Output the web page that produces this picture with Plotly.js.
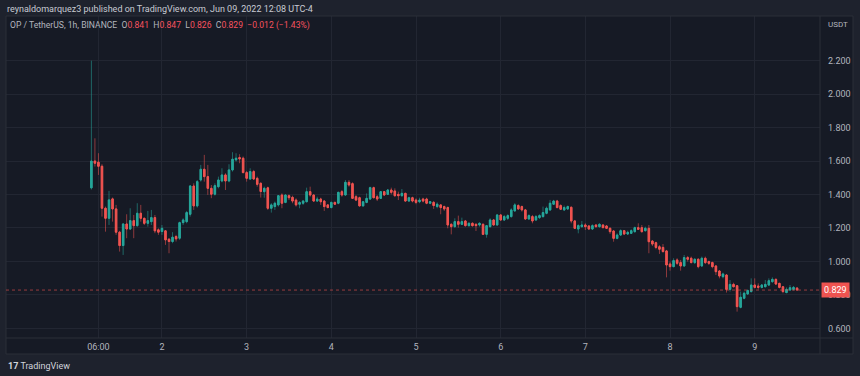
<!DOCTYPE html>
<html><head><meta charset="utf-8">
<script src="https://cdn.plot.ly/plotly-3.0.1.min.js"></script>
<style>html,body{margin:0;padding:0;background:#1e222d;overflow:hidden}#chart{width:860px;height:376px}</style>
</head><body><div id="chart"></div>
<script>
// OP / TetherUS, 1h, BINANCE — hourly candles from 2022-06-01 04:00 (UTC-4)
const firstCandle = [2022, 5, 1, 4]; // year, month index, day, hour
const openP = [
1.440,1.600,1.593,1.569,1.318,1.258,1.374,1.314,1.175,1.095,
1.224,1.194,1.244,1.214,1.288,1.258,1.228,1.238,1.262,1.189,
1.179,1.183,1.133,1.119,1.149,1.139,1.232,1.238,1.282,1.451,
1.332,1.487,1.551,1.507,1.437,1.402,1.447,1.481,1.517,1.481,
1.547,1.607,1.621,1.617,1.531,1.493,1.537,1.497,1.467,1.417,
1.440,1.318,1.328,1.338,1.397,1.353,1.393,1.383,1.367,1.342,
1.348,1.357,1.417,1.397,1.361,1.373,1.361,1.338,1.322,1.353,
1.348,1.417,1.397,1.473,1.465,1.387,1.381,1.332,1.353,1.373,
1.441,1.387,1.377,1.417,1.401,1.427,1.421,1.401,1.393,1.407,
1.361,1.381,1.367,1.357,1.373,1.373,1.348,1.353,1.328,1.338,
1.328,1.322,1.222,1.208,1.238,1.222,1.242,1.214,1.228,1.222,
1.218,1.222,1.162,1.208,1.248,1.218,1.278,1.248,1.258,1.268,
1.302,1.334,1.328,1.308,1.254,1.268,1.248,1.262,1.268,1.288,
1.308,1.342,1.361,1.334,1.308,1.314,1.324,1.242,1.194,1.208,
1.218,1.212,1.194,1.218,1.208,1.218,1.212,1.198,1.182,1.138,
1.158,1.184,1.164,1.168,1.178,1.202,1.202,1.184,1.198,1.122,
1.112,1.088,1.084,1.063,0.985,0.969,1.009,0.993,0.973,1.023,
1.019,0.993,1.013,0.973,1.019,0.999,0.993,0.973,0.943,0.909,
0.919,0.833,0.863,0.855,0.726,0.780,0.806,0.820,0.859,0.853,
0.845,0.849,0.859,0.879,0.893,0.869,0.849,0.814,0.829,0.833,
0.841];
const highP = [
2.200,1.736,1.647,1.581,1.328,1.422,1.382,1.338,1.183,1.228,
1.282,1.318,1.278,1.348,1.338,1.262,1.302,1.308,1.278,1.198,
1.218,1.188,1.139,1.175,1.159,1.238,1.258,1.302,1.457,1.467,
1.487,1.577,1.637,1.577,1.457,1.467,1.507,1.557,1.527,1.581,
1.653,1.647,1.641,1.627,1.541,1.557,1.547,1.507,1.473,1.447,
1.447,1.348,1.358,1.397,1.407,1.401,1.401,1.393,1.377,1.361,
1.367,1.441,1.447,1.401,1.387,1.381,1.367,1.342,1.357,1.357,
1.417,1.427,1.487,1.487,1.473,1.397,1.387,1.361,1.407,1.447,
1.447,1.397,1.421,1.421,1.433,1.441,1.437,1.417,1.433,1.411,
1.387,1.387,1.377,1.381,1.381,1.381,1.361,1.361,1.353,1.342,
1.334,1.328,1.228,1.258,1.274,1.262,1.248,1.234,1.234,1.228,
1.234,1.228,1.218,1.258,1.254,1.282,1.282,1.278,1.282,1.318,
1.348,1.342,1.334,1.314,1.282,1.278,1.278,1.282,1.328,1.328,
1.368,1.368,1.368,1.342,1.334,1.334,1.328,1.248,1.222,1.242,
1.228,1.218,1.222,1.222,1.228,1.222,1.218,1.204,1.188,1.168,
1.192,1.188,1.184,1.192,1.208,1.228,1.218,1.208,1.218,1.128,
1.118,1.098,1.104,1.069,0.999,1.019,1.019,1.009,1.039,1.033,
1.029,1.019,1.019,1.029,1.029,1.005,0.999,0.979,0.949,0.933,
0.925,0.889,0.873,0.859,0.820,0.820,0.833,0.899,0.899,0.869,
0.865,0.889,0.899,0.905,0.899,0.873,0.853,0.845,0.859,0.853,
0.847];
const lowP = [
1.430,1.567,1.517,1.268,1.178,1.218,1.238,1.159,1.059,1.039,
1.139,1.188,1.139,1.208,1.238,1.218,1.208,1.218,1.169,1.159,
1.159,1.099,1.049,1.109,1.119,1.129,1.218,1.228,1.268,1.308,
1.322,1.477,1.477,1.398,1.378,1.394,1.437,1.473,1.427,1.473,
1.537,1.597,1.587,1.527,1.477,1.487,1.487,1.447,1.382,1.381,
1.308,1.292,1.308,1.328,1.318,1.348,1.367,1.348,1.328,1.318,
1.338,1.353,1.387,1.357,1.357,1.338,1.302,1.318,1.318,1.338,
1.342,1.387,1.393,1.447,1.373,1.361,1.328,1.328,1.348,1.367,
1.377,1.361,1.373,1.393,1.397,1.401,1.387,1.367,1.387,1.357,
1.357,1.353,1.342,1.348,1.353,1.342,1.342,1.314,1.318,1.282,
1.302,1.198,1.162,1.202,1.202,1.218,1.208,1.208,1.208,1.182,
1.208,1.158,1.142,1.202,1.214,1.214,1.242,1.242,1.248,1.262,
1.298,1.308,1.298,1.248,1.248,1.228,1.242,1.254,1.262,1.282,
1.302,1.338,1.318,1.308,1.302,1.308,1.228,1.194,1.168,1.202,
1.188,1.188,1.188,1.202,1.202,1.198,1.194,1.165,1.118,1.132,
1.152,1.158,1.158,1.164,1.172,1.188,1.172,1.178,1.049,1.092,
1.073,1.045,1.053,0.905,0.945,0.965,0.979,0.945,0.969,0.999,
0.989,0.985,0.959,0.969,0.985,0.979,0.959,0.919,0.899,0.899,
0.814,0.820,0.845,0.700,0.720,0.774,0.800,0.814,0.839,0.833,
0.839,0.845,0.853,0.873,0.859,0.839,0.810,0.810,0.826,0.826,
0.826];
const closeP = [
1.600,1.587,1.569,1.318,1.258,1.368,1.314,1.175,1.095,1.224,
1.194,1.244,1.214,1.288,1.258,1.228,1.244,1.262,1.183,1.175,
1.198,1.129,1.119,1.145,1.135,1.232,1.248,1.292,1.451,1.332,
1.477,1.551,1.507,1.437,1.402,1.453,1.487,1.517,1.481,1.547,
1.611,1.617,1.613,1.531,1.497,1.537,1.493,1.461,1.418,1.437,
1.318,1.338,1.348,1.393,1.348,1.397,1.381,1.361,1.338,1.352,
1.361,1.417,1.397,1.361,1.373,1.357,1.328,1.322,1.353,1.342,
1.413,1.397,1.473,1.457,1.377,1.367,1.332,1.357,1.377,1.441,
1.381,1.373,1.417,1.397,1.427,1.413,1.393,1.393,1.407,1.361,
1.381,1.361,1.353,1.367,1.361,1.348,1.357,1.334,1.342,1.322,
1.314,1.218,1.208,1.238,1.222,1.238,1.214,1.228,1.214,1.214,
1.228,1.162,1.214,1.248,1.218,1.278,1.248,1.268,1.274,1.308,
1.338,1.314,1.308,1.254,1.274,1.242,1.268,1.274,1.292,1.318,
1.348,1.361,1.322,1.312,1.322,1.328,1.242,1.198,1.214,1.218,
1.208,1.194,1.214,1.208,1.222,1.202,1.198,1.178,1.138,1.158,
1.184,1.164,1.174,1.184,1.202,1.192,1.178,1.198,1.118,1.104,
1.084,1.073,1.059,0.979,0.969,1.005,0.989,0.973,1.023,1.013,
0.993,1.013,0.969,1.019,0.993,0.989,0.969,0.939,0.913,0.925,
0.833,0.863,0.849,0.730,0.786,0.810,0.826,0.859,0.845,0.845,
0.859,0.863,0.885,0.893,0.865,0.845,0.820,0.833,0.843,0.845,
0.829];
const timeTickLabels = ['06:00','2','3','4','5','6','7','8','9'];
const timeTickValues = ['2022-06-01 06:00','2022-06-02 00:00','2022-06-03 00:00','2022-06-04 00:00',
  '2022-06-05 00:00','2022-06-06 00:00','2022-06-07 00:00','2022-06-08 00:00','2022-06-09 00:00'];
const priceTicks = [0.6,0.8,1.0,1.2,1.4,1.6,1.8,2.0,2.2];
const headerText = 'reynaldomarquez3 published on TradingView.com, Jun 09, 2022 12:08 UTC-4';
const symbolText = 'OP / TetherUS, 1h, BINANCE';
const changeText = '−0.012 (−1.43%)';

const HOUR = 3600000;
const t0 = Date.UTC(firstCandle[0], firstCandle[1], firstCandle[2], firstCandle[3]);
const fmt = ms => new Date(ms).toISOString().slice(0,16).replace('T',' ');
const times = openP.map((_, i) => fmt(t0 + i * HOUR));
const bodyHi = openP.map((o, i) => Math.max(o, closeP[i]));
const bodyLo = openP.map((o, i) => Math.min(o, closeP[i]));
const n = closeP.length;
const lastO = openP[n-1], lastH = highP[n-1], lastL = lowP[n-1], lastC = closeP[n-1];

const UP = '#26a69a', DN = '#ef5350';
const UPW = 'rgba(38,166,154,0.55)', DNW = 'rgba(239,83,80,0.55)';

const wicks = {
  type: 'candlestick', x: times, open: openP, high: highP, low: lowP, close: closeP,
  increasing: {line: {color: UPW, width: 1}, fillcolor: UPW},
  decreasing: {line: {color: DNW, width: 1}, fillcolor: DNW},
  hoverinfo: 'skip', showlegend: false
};
const bodies = {
  type: 'candlestick', x: times, open: openP, high: bodyHi, low: bodyLo, close: closeP,
  increasing: {line: {color: UP, width: 1}, fillcolor: UP},
  decreasing: {line: {color: DN, width: 1}, fillcolor: DN},
  hoverinfo: 'skip', showlegend: false
};

const GRAY = '#b2b5be';
const RED = '#f7525f';
const L = 6, R = 820, T = 16, B = 338, RR = 853, BB = 354;
const W = R - L, H = B - T;
const px = x => (x - L) / W, py = y => (B - y) / H;
const red = s => '<span style="color:' + RED + '">' + s + '</span>';

const layout = {
  width: 860, height: 376,
  margin: {l: L, r: 860 - R, t: T, b: 376 - B, pad: 0},
  paper_bgcolor: '#1e222d', plot_bgcolor: '#161a25',
  font: {family: 'Roboto, sans-serif', color: GRAY, size: 9},
  showlegend: false, hovermode: false, boxgap: 0.4,
  xaxis: {
    type: 'date',
    range: [fmt(t0 - 24.2 * HOUR), fmt(t0 + 206.5 * HOUR)],
    rangeslider: {visible: false},
    tickmode: 'array', tickvals: timeTickValues, ticktext: timeTickLabels,
    showgrid: true, gridcolor: '#222632', gridwidth: 1, zeroline: false,
    ticks: '', showline: false, tickfont: {size: 9, color: GRAY}, ticklabelstandoff: 2
  },
  yaxis: {
    side: 'right', range: [0.5425, 2.467],
    tickmode: 'array', tickvals: priceTicks, tickformat: '.3f',
    showgrid: true, gridcolor: '#222632', gridwidth: 1, zeroline: false,
    ticks: '', showline: false, tickfont: {size: 9, color: GRAY}, ticklabelstandoff: 7
  },
  shapes: [
    {type: 'rect', xref: 'paper', yref: 'paper', x0: 1, x1: px(RR), y0: py(BB), y1: 1,
     fillcolor: '#161a25', line: {width: 0}, layer: 'below'},
    {type: 'rect', xref: 'paper', yref: 'paper', x0: 0, x1: 1, y0: py(BB), y1: 0,
     fillcolor: '#161a25', line: {width: 0}, layer: 'below'},
    {type: 'rect', xref: 'paper', yref: 'paper', x0: 0, x1: px(RR), y0: py(BB), y1: 1,
     line: {color: '#2a2e39', width: 1}},
    {type: 'line', xref: 'paper', yref: 'paper', x0: 1, x1: 1, y0: py(BB), y1: 1,
     line: {color: '#2a2e39', width: 1}},
    {type: 'line', xref: 'paper', yref: 'paper', x0: 0, x1: px(RR), y0: 0, y1: 0,
     line: {color: '#2a2e39', width: 1}},
    {type: 'line', xref: 'paper', yref: 'y', x0: 0, x1: 1, y0: lastC, y1: lastC,
     line: {color: 'rgba(239,83,80,0.6)', width: 1, dash: 'dot'}}
  ],
  annotations: [
    {xref: 'paper', yref: 'paper', x: px(5), y: py(9), xanchor: 'left', yanchor: 'middle',
     showarrow: false, text: headerText, font: {size: 9, color: '#c8cbd3'}},
    {xref: 'paper', yref: 'paper', x: px(8), y: py(25), xanchor: 'left', yanchor: 'middle',
     showarrow: false, font: {size: 8.6, color: GRAY},
     text: symbolText + '  O' + red(lastO.toFixed(3)) + '  H' + red(lastH.toFixed(3)) +
       '  L' + red(lastL.toFixed(3)) + '  C' + red(lastC.toFixed(3)) + '  ' + red(changeText)},
    {xref: 'paper', yref: 'paper', x: px(826), y: py(24), xanchor: 'left', yanchor: 'middle',
     showarrow: false, text: 'USDT', font: {size: 8, color: GRAY}},
    {xref: 'paper', yref: 'y', x: 1, y: lastC, xanchor: 'left', yanchor: 'middle', xshift: 1,
     showarrow: false, text: lastC.toFixed(3), bgcolor: DN, borderpad: 2,
     font: {size: 9, color: '#ffffff'}},
    {xref: 'paper', yref: 'paper', x: px(6), y: py(366), xanchor: 'left', yanchor: 'middle',
     showarrow: false, text: '<b>17</b> TradingView', font: {size: 9, color: '#d1d4dc'}}
  ]
};

Plotly.newPlot('chart', [wicks, bodies], layout, {staticPlot: true, displayModeBar: false});
</script></body></html>
